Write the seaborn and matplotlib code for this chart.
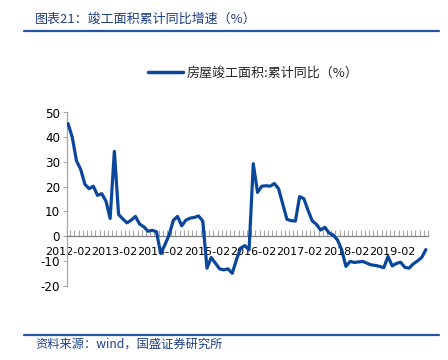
import matplotlib
matplotlib.use("Agg")
import matplotlib.pyplot as plt
import seaborn as sns
import pandas as pd
import numpy as np
from matplotlib.lines import Line2D

sns.set_theme(style="white")
plt.rcParams['font.family'] = ['DejaVu Sans', 'Noto Sans CJK SC']

# Monthly cumulative YoY (Jan excluded), 2012-02 .. 2019-10
months_by_year = {
    2012: list(range(2, 13)), 2013: list(range(2, 13)), 2014: list(range(2, 13)),
    2015: list(range(2, 13)), 2016: list(range(2, 13)), 2017: list(range(2, 13)),
    2018: list(range(2, 13)), 2019: list(range(2, 11)),
}
dates = [f"{y}-{m:02d}" for y, ms in months_by_year.items() for m in ms]

v2012 = [45.5, 40.0, 30.5, 27.0, 21.0, 19.2, 20.2, 16.5, 17.2, 14.2, 7.2]
v2013 = [34.3, 8.8, 7.0, 5.4, 6.5, 8.0, 4.9, 3.8, 2.0, 2.4, 1.8]
v2014 = [-7.0, -3.5, 0.5, 6.4, 8.0, 4.2, 6.5, 7.3, 7.6, 8.2, 6.1]
v2015 = [-12.9, -8.6, -10.9, -13.2, -13.6, -13.2, -15.0, -9.5, -4.8, -3.8, -5.5]
v2016 = [29.3, 17.7, 20.2, 20.4, 20.2, 21.3, 19.2, 13.0, 6.8, 6.3, 6.1]
v2017 = [16.0, 15.2, 10.5, 6.2, 4.8, 2.5, 3.6, 1.3, 0.4, -1.5, -5.5]
v2018 = [-12.2, -10.2, -10.6, -10.4, -10.2, -10.9, -11.6, -11.8, -12.2, -12.7, -8.2]
v2019 = [-12.0, -11.0, -10.5, -12.6, -12.9, -11.2, -10.0, -8.6, -5.4]
values = v2012 + v2013 + v2014 + v2015 + v2016 + v2017 + v2018 + v2019

series_name = "房屋竣工面积:累计同比（%）"
title_text = "图表21：竣工面积累计同比增速（%）"
source_text = "资料来源：wind，国盛证券研究所"
yticks = [-20, -10, 0, 10, 20, 30, 40, 50]

df = pd.DataFrame({"idx": np.arange(len(values)), "date": dates, "value": values})

W, H = 448, 360
fig = plt.figure(figsize=(W / 100, H / 100), dpi=100)
ax = fig.add_axes([67 / W, 1 - 285.7 / H, (428 - 67) / W, (285.7 - 112.5) / H])

line_color = "#0a479c"
sns.lineplot(data=df, x="idx", y="value", ax=ax, color=line_color, linewidth=2.3,
             label=series_name, legend=False, zorder=3)

ax.set_xlim(-0.25, 85.5)
ax.set_ylim(-20, 50)
ax.set_xlabel("")
ax.set_ylabel("")

# spines
for s in ["top", "right"]:
    ax.spines[s].set_visible(False)
ax.spines["bottom"].set_position(("data", 0))
ax.spines["bottom"].set_color("#7f7f7f")
ax.spines["bottom"].set_linewidth(0.9)
ax.spines["left"].set_color("#a6a6a6")
ax.spines["left"].set_linewidth(0.9)

ax.set_yticks(yticks)
ax.set_yticklabels([str(t) for t in yticks])
ax.tick_params(axis="y", direction="out", length=3, width=0.8, color="#a6a6a6",
               labelsize=8.6, labelcolor="black", pad=2, left=True)

label_idx = list(range(0, len(values), 11))
ax.set_xticks(label_idx)
ax.set_xticklabels([dates[i] for i in label_idx])
ax.set_xticks(np.arange(len(values)) + 0.5, minor=True)
ax.tick_params(axis="x", which="major", direction="in", length=0, labelsize=8.0,
               labelcolor="black", pad=7.5, bottom=True)
ax.tick_params(axis="x", which="minor", direction="in", length=4, width=0.8,
               color="#a6a6a6", bottom=True)
ax.grid(False)

# legend
handle = Line2D([], [], color=line_color, linewidth=2.5)
fig.legend([handle], [series_name], loc="center", bbox_to_anchor=(253 / W, 1 - 73 / H),
           frameon=False, handlelength=2.7, handletextpad=0.3,
           prop={"family": ["Noto Sans CJK SC", "DejaVu Sans"], "size": 9.4})

# header / footer
blue_dark = "#1f3f84"
fig.text(35 / W, 1 - 19 / H, title_text, ha="left", va="center", fontsize=9.4,
         color=blue_dark, style="italic", family=["Noto Sans CJK SC", "DejaVu Sans"])
fig.add_artist(Line2D([24 / W, 439 / W], [1 - 31 / H, 1 - 31 / H], color="#2356a8",
                      linewidth=1.6, transform=fig.transFigure))
fig.add_artist(Line2D([24 / W, 439 / W], [1 - 335 / H, 1 - 335 / H], color="#2356a8",
                      linewidth=1.6, transform=fig.transFigure))
fig.text(35 / W, 1 - 344 / H, source_text, ha="left", va="center", fontsize=8.8,
         color=blue_dark, style="italic", family=["Noto Sans CJK SC", "DejaVu Sans"])

fig.savefig("out.png", dpi=100)
